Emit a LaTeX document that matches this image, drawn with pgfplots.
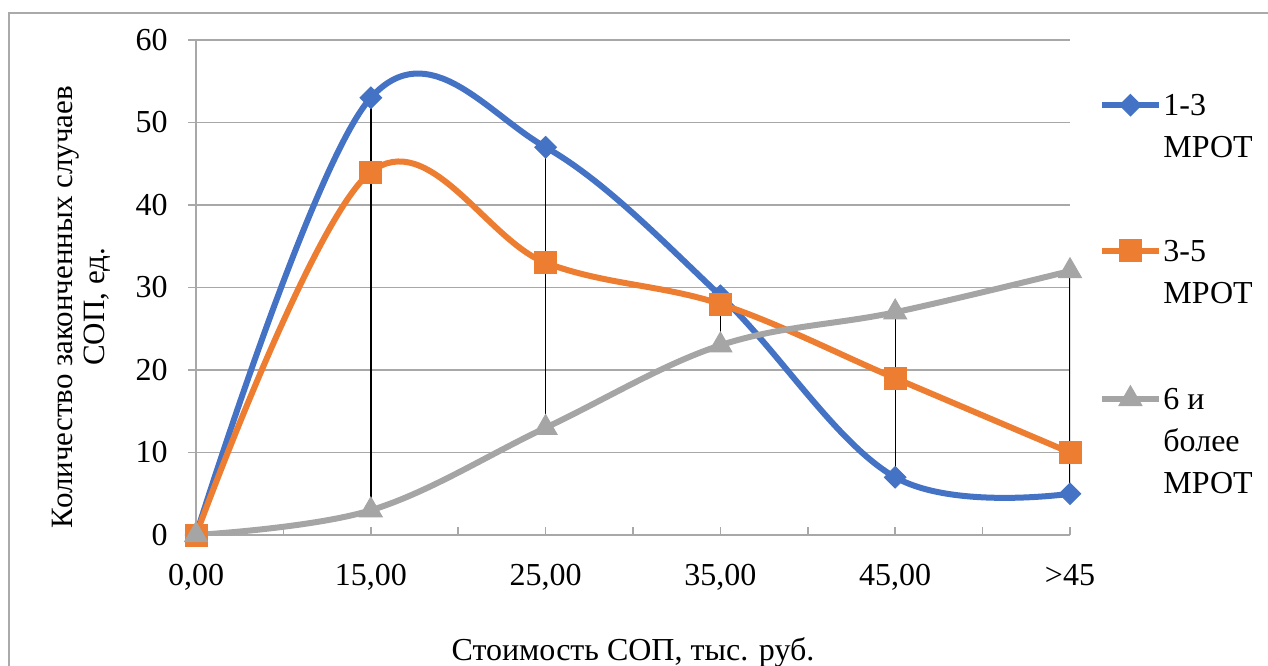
\documentclass[border=0pt]{standalone}
\usepackage{fontspec}
\setmainfont{Liberation Serif}
\usepackage{pgfplots}
\pgfplotsset{compat=1.18}

\definecolor{serblue}{HTML}{4472C4}
\definecolor{serorange}{HTML}{ED7D31}
\definecolor{sergray}{HTML}{A5A5A5}
\definecolor{gridgray}{RGB}{168,168,168}
\definecolor{framegray}{RGB}{170,170,170}

\begin{document}
\begin{tikzpicture}
\useasboundingbox (0pt,0pt) rectangle (634pt,332.5pt);
% chart frame
\draw[framegray, line width=1pt] (4.25pt,-20pt) rectangle (700pt,326pt);

\begin{axis}[
  at={(98pt,65pt)}, anchor=south west,
  scale only axis, width=437pt, height=247.5pt,
  xmin=0, xmax=5, ymin=0, ymax=60,
  axis x line=bottom, axis y line=left,
  axis line style={-, draw=gridgray, line width=0.8pt},
  xtick={0,1,2,3,4,5},
  xticklabels={{0,00},{15,00},{25,00},{35,00},{45,00},{>45}},
  minor xtick={0.5,1.5,2.5,3.5,4.5},
  ytick={0,10,...,60},
  xtick align=inside, ytick align=outside,
  major tick length=4pt, minor tick length=4pt,
  tick style={draw=gridgray, line width=0.8pt},
  ymajorgrids, grid style={draw=gridgray, line width=0.8pt},
  /pgf/number format/assume math mode=true,
  ticklabel style={font=\fontsize{16pt}{18pt}\selectfont},
  xticklabel style={anchor=north, inner sep=0pt, text height=10.8pt, text depth=0pt, yshift=-14pt},
  yticklabel style={anchor=east, inner sep=0pt, xshift=-10pt},
  legend style={at={(1.0332,0.891)}, anchor=north west, draw=none, fill=none,
    inner sep=0pt, row sep=39.5pt,
    font=\fontsize{16pt}{21pt}\selectfont,
    cells={anchor=north west},
    nodes={align=left, inner xsep=1pt, inner ysep=0pt}},
  legend image code/.code={%
    \draw[mark repeat=2, mark phase=2, yshift=-5.4pt] plot coordinates {(0pt,0pt) (14pt,0pt) (28pt,0pt)};},
  every axis plot/.append style={line width=3pt, smooth, tension=0.6},
]
\addplot[serblue, mark=square*, mark size=3.8pt, mark options={rotate=45, solid, line width=0.5pt}]
  coordinates {(0,0) (1,53) (2,47) (3,29) (4,7) (5,5)};
\addlegendentry{1-3\\МРОТ}
\addplot[serorange, mark=square*, mark size=5.5pt, mark options={solid, line width=0.5pt}]
  coordinates {(0,0) (1,44) (2,33) (3,28) (4,19) (5,10)};
\addlegendentry{3-5\\МРОТ}
\addplot[sergray, mark=triangle*, mark size=6.6pt, mark options={solid, line width=0.5pt}]
  coordinates {(0,0) (1,3) (2,13) (3,23) (4,27) (5,32)};
\addlegendentry{6 и\\более\\МРОТ}

% high-low lines
\addplot[black, line width=0.7pt, sharp plot, forget plot] coordinates {(1,3) (1,53)};
\addplot[black, line width=0.7pt, sharp plot, forget plot] coordinates {(2,13) (2,47)};
\addplot[black, line width=0.7pt, sharp plot, forget plot] coordinates {(3,23) (3,29)};
\addplot[black, line width=0.7pt, sharp plot, forget plot] coordinates {(4,7) (4,27)};
\addplot[black, line width=0.7pt, sharp plot, forget plot] coordinates {(5,5) (5,32)};
\end{axis}

% axis titles
\node[anchor=base, font=\fontsize{16pt}{18pt}\selectfont] at (316.5pt,2.5pt) {Стоимость СОП, тыс. руб.};
\node[rotate=90, align=center, font=\fontsize{15.5pt}{16pt}\selectfont] at (40.5pt,179pt)
  {Количество законченных случаев\\СОП, ед.};
\end{tikzpicture}
\end{document}
